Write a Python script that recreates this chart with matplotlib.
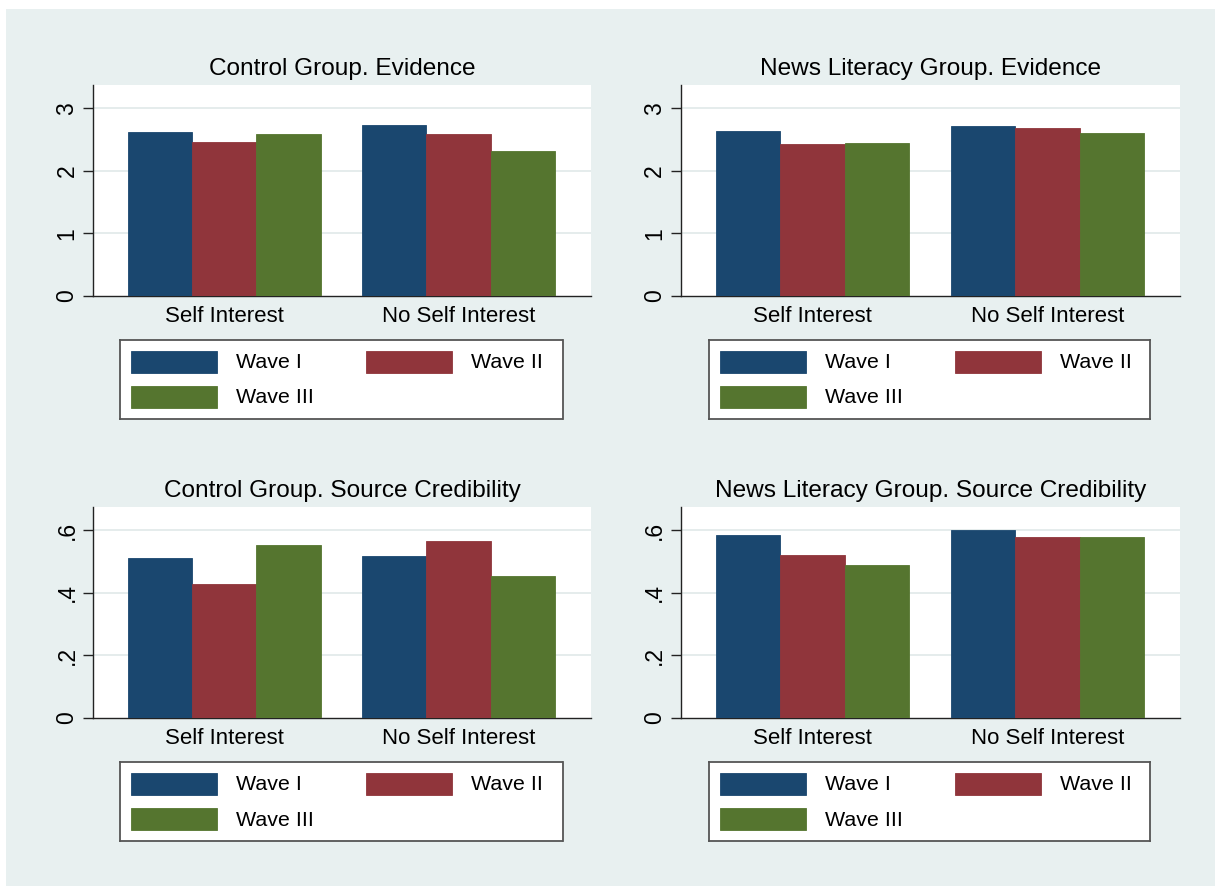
import matplotlib
matplotlib.use("Agg")
import matplotlib.pyplot as plt
from matplotlib.patches import Rectangle
import numpy as np

plt.rcParams["font.family"] = ["Liberation Sans", "DejaVu Sans"]

# ---- data ----
categories = ["Self Interest", "No Self Interest"]
waves = ["Wave I", "Wave II", "Wave III"]
wave_colors = ["#1a476f", "#90353b", "#55752f"]

titles = [
    "Control Group. Evidence",
    "News Literacy Group. Evidence",
    "Control Group. Source Credibility",
    "News Literacy Group. Source Credibility",
]

# one list per wave, values for [Self Interest, No Self Interest]
control_evidence = [[2.62, 2.73], [2.46, 2.59], [2.59, 2.31]]
newslit_evidence = [[2.64, 2.71], [2.43, 2.69], [2.45, 2.61]]
control_credibility = [[0.513, 0.517], [0.430, 0.566], [0.553, 0.453]]
newslit_credibility = [[0.587, 0.602], [0.523, 0.580], [0.490, 0.580]]

evidence_ticks = [0, 1, 2, 3]
evidence_ticklabels = ["0", "1", "2", "3"]
cred_ticks = [0, 0.2, 0.4, 0.6]
cred_ticklabels = ["0", ".2", ".4", ".6"]

panels = [
    (control_evidence, evidence_ticks, evidence_ticklabels, 3.37),
    (newslit_evidence, evidence_ticks, evidence_ticklabels, 3.37),
    (control_credibility, cred_ticks, cred_ticklabels, 0.675),
    (newslit_credibility, cred_ticks, cred_ticklabels, 0.675),
]

# ---- layout (pixel boxes) ----
W, H = 1215, 886
BG = "#e8f0f0"


def frac(x0, x1, y0, y1):
    return [x0 / W, 1 - y1 / H, (x1 - x0) / W, (y1 - y0) / H]


axes_boxes = [
    (93.4, 590.5, 85, 296),
    (681.2, 1180, 85, 296),
    (93.4, 590.5, 507, 718),
    (681.2, 1180, 507, 718),
]
legend_boxes = [
    (120.2, 562.5, 340, 419),
    (709.3, 1150.4, 340, 419),
    (120.2, 562.5, 762, 841),
    (709.3, 1150.4, 762, 841),
]
title_baselines = [75.5, 75.5, 497.5, 497.5]

fig = plt.figure(figsize=(W / 100, H / 100), dpi=100, facecolor="white")
fig.patches.append(Rectangle((6 / W, 0), 1 - 6 / W, 1 - 9 / H,
                             transform=fig.transFigure, facecolor=BG,
                             edgecolor="none", zorder=-10))

bar_w = 0.2745
x = np.arange(len(categories))

for (vals, ticks, ticklabels, ymax), box, lbox, title, tb in zip(
        panels, axes_boxes, legend_boxes, titles, title_baselines):
    ax = fig.add_axes(frac(*box))
    ax.set_facecolor("white")
    for i, (series, color) in enumerate(zip(vals, wave_colors)):
        ax.bar(x + (i - 1) * bar_w, series, width=bar_w, color=color,
               edgecolor=color, linewidth=0.6, zorder=3)
    ax.set_xlim(-0.558, 1.564)
    ax.set_ylim(0, ymax)
    ax.set_yticks(ticks)
    ax.set_yticklabels(ticklabels, rotation=90, va="center", fontsize=16.5)
    ax.set_xticks(x)
    ax.set_xticklabels(categories, fontsize=16)
    ax.tick_params(axis="x", length=0, pad=7.5)
    ax.tick_params(axis="y", length=7.2, width=1.0, color="#222222", pad=3.5)
    for t in ticks[1:]:
        ax.axhline(t, color="#e3ebeb", linewidth=1.3, zorder=1)
    for s in ("top", "right"):
        ax.spines[s].set_visible(False)
    for s in ("left", "bottom"):
        ax.spines[s].set_color("#222222")
        ax.spines[s].set_linewidth(1.0)

    x0, x1, y0, y1 = box
    fig.text((x0 + x1) / 2 / W, 1 - tb / H, title,
             ha="center", va="baseline", fontsize=17.6)

    # legend panel
    lx0, lx1, ly0, ly1 = lbox
    lax = fig.add_axes(frac(*lbox))
    lax.set_xlim(lx0, lx1)
    lax.set_ylim(ly1, ly0)
    lax.set_xticks([])
    lax.set_yticks([])
    lax.set_facecolor("white")
    for s in lax.spines.values():
        s.set_color("#555555")
        s.set_linewidth(1.3)
    slots = [(10.9, 11), (245.5, 11), (10.9, 46)]
    for (dx, dy), label, color in zip(slots, waves, wave_colors):
        px, py = lx0 + dx, ly0 + dy
        lax.add_patch(Rectangle((px, py), 86, 22, facecolor=color,
                                edgecolor=color, linewidth=0.6))
        lax.text(px + 105, py + 12, label, ha="left", va="center",
                 fontsize=15.4)

fig.savefig("out.png", dpi=100, facecolor="white")
